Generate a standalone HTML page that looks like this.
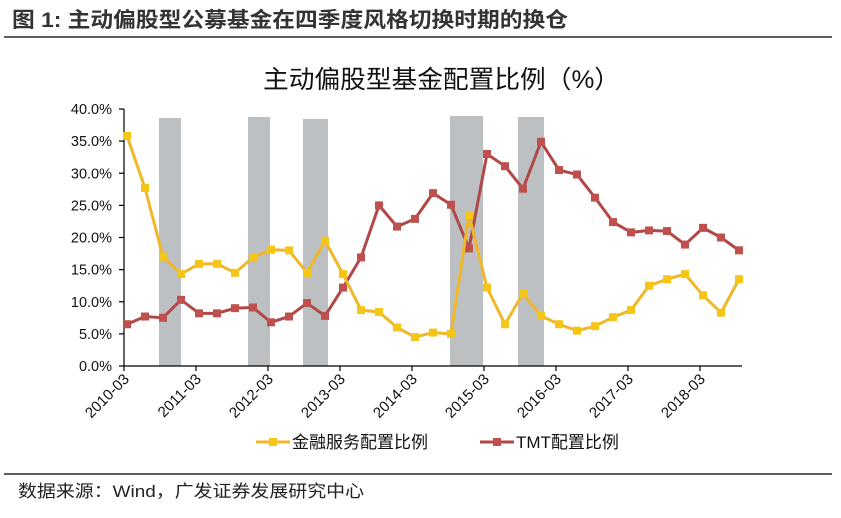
<!DOCTYPE html>
<html><head><meta charset="utf-8"><style>
body{margin:0;background:#fff;width:841px;height:513px;overflow:hidden;font-family:"Liberation Sans","Noto Sans CJK SC",sans-serif}
</style></head><body>
<svg width="841" height="513" xmlns="http://www.w3.org/2000/svg" font-family="Liberation Sans, Noto Sans CJK SC, sans-serif">
<text x="12" y="27" font-size="21" font-weight="bold" fill="#333" textLength="556" lengthAdjust="spacingAndGlyphs">图 1:  主动偏股型公募基金在四季度风格切换时期的换仓</text>
<line x1="4" y1="37" x2="832" y2="37" stroke="#000" stroke-width="1.2"/>
<text x="263" y="88" font-size="25" fill="#111" textLength="357" lengthAdjust="spacingAndGlyphs">主动偏股型基金配置比例（%）</text>
<g fill="#bcc0c3">
<rect x="159" y="118" width="22" height="248"/>
<rect x="248" y="117" width="22" height="249"/>
<rect x="303" y="119" width="25" height="247"/>
<rect x="450" y="116" width="33" height="250"/>
<rect x="518" y="117" width="26" height="249"/>
</g>
<g stroke="#000" stroke-width="1.2">
<line x1="124" y1="109" x2="124" y2="366"/>
<line x1="124" y1="366" x2="742" y2="366"/>
</g>
<g id="yt" font-size="14.5" fill="#111" text-anchor="end"></g>
<g id="xt" font-size="15" fill="#111"></g>
<g id="s"></g>
<line x1="256" y1="442" x2="290" y2="442" stroke="#f0b828" stroke-width="3"/><rect x="269" y="438" width="8" height="8" fill="#f5c518"/>
<text x="292" y="448" font-size="17" fill="#111">金融服务配置比例</text>
<line x1="480" y1="442" x2="514" y2="442" stroke="#b04848" stroke-width="3"/><rect x="493" y="438" width="8" height="8" fill="#c0504d"/>
<text x="516" y="448" font-size="17" fill="#111">TMT配置比例</text>
<line x1="4" y1="474" x2="832" y2="474" stroke="#000" stroke-width="1.2"/>
<text x="18" y="497" font-size="17" fill="#222" textLength="346" lengthAdjust="spacingAndGlyphs">数据来源：Wind，广发证券发展研究中心</text>
</svg>
<script>
var NS="http://www.w3.org/2000/svg";
function el(p,t,a,txt){var e=document.createElementNS(NS,t);for(var k in a)e.setAttribute(k,a[k]);if(txt)e.textContent=txt;p.appendChild(e);return e;}
var yt=document.getElementById('yt'),svg=document.querySelector('svg');
for(var i=0;i<=8;i++){var y=366-i*5*6.425;el(yt,'text',{x:112,y:y+5},(i*5).toFixed(1)+'%');el(svg,'line',{x1:119,y1:y,x2:124,y2:y,stroke:'#000','stroke-width':1.2});}
var xt=document.getElementById('xt');
for(var j=0;j<9;j++){var x=124+j*72;el(svg,'line',{x1:x,y1:366,x2:x,y2:371,stroke:'#000','stroke-width':1.2});
el(xt,'text',{x:0,y:0,'text-anchor':'end',transform:'translate('+(x+6)+',380) rotate(-45)'},(2010+j)+'-03');}
var F=[35.8,27.7,17,14.3,15.9,15.9,14.5,16.9,18.1,18,14.5,19.5,14.3,8.7,8.4,6,4.5,5.2,5,23.5,12.2,6.5,11.3,7.8,6.5,5.5,6.2,7.6,8.7,12.5,13.5,14.3,11,8.3,13.5];
var T=[6.5,7.7,7.5,10.3,8.2,8.2,9,9.1,6.8,7.7,9.8,7.8,12.2,16.9,25,21.7,22.9,26.9,25.1,18.3,33,31.1,27.6,34.9,30.5,29.8,26.2,22.4,20.8,21.1,21,18.9,21.5,20,18];
var s=document.getElementById('s');
function draw(d,lc,mc){var pts=d.map(function(v,i){return [127+i*18,366-v*6.425];});
el(s,'polyline',{points:pts.map(function(p){return p.join(',')}).join(' '),fill:'none',stroke:lc,'stroke-width':3,'stroke-linejoin':'round'});
pts.forEach(function(p){el(s,'rect',{x:p[0]-4,y:p[1]-4,width:8,height:8,fill:mc});});}
draw(T,'#b04848','#c0504d');
draw(F,'#f0b828','#f5c518');
</script>
</body></html>
